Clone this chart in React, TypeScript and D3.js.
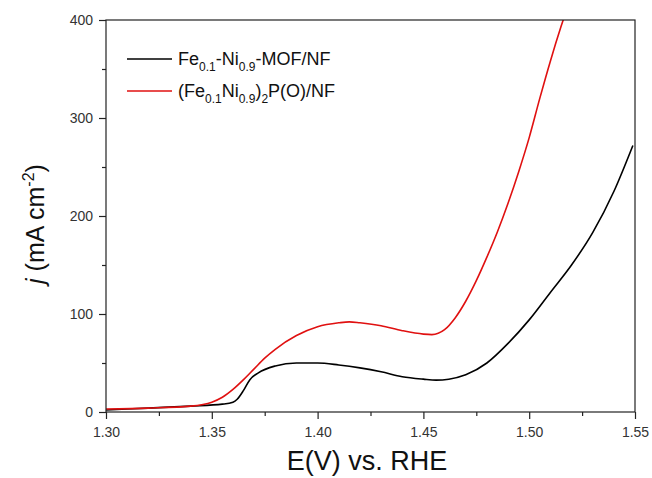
import React, { useEffect, useRef } from "react";
import * as d3 from "d3";

// potential (V vs. RHE) and current density (mA cm-2)
const mofE = [1.3, 1.32, 1.34, 1.355, 1.36, 1.362, 1.365, 1.368, 1.372, 1.38, 1.39, 1.4, 1.41, 1.42, 1.43, 1.44, 1.45, 1.456, 1.462, 1.47, 1.48, 1.49, 1.5, 1.51, 1.52, 1.53, 1.54, 1.549];
const mofJ = [2, 4, 6, 8, 10, 13, 22, 33, 40, 47, 50, 50, 48, 45, 41, 36, 33.5, 32.5, 33.5, 38, 50, 70, 94, 122, 150, 183, 225, 272];

const phosE = [1.3, 1.32, 1.34, 1.35, 1.355, 1.36, 1.365, 1.37, 1.375, 1.38, 1.39, 1.4, 1.41, 1.415, 1.42, 1.43, 1.44, 1.45, 1.454, 1.46, 1.465, 1.47, 1.475, 1.48, 1.485, 1.49, 1.495, 1.5, 1.505, 1.51, 1.515, 1.52];
const phosJ = [3, 4, 6, 10, 15, 23, 33, 44, 55, 64, 78, 87, 91, 92, 91, 88, 83, 79.5, 79, 84, 96, 113, 134, 158, 184, 213, 245, 280, 320, 358, 393, 425];

const xTicks = [1.3, 1.35, 1.4, 1.45, 1.5, 1.55];
const yTicks = [0, 100, 200, 300, 400];

const font = "'Liberation Sans', Arial, sans-serif";

const App = () => {
  const ref = useRef<SVGSVGElement>(null);

  useEffect(() => {
    const svg = d3.select(ref.current);
    svg.selectAll("*").remove();

    const left = 106, right = 635, top = 20, bottom = 412;
    const x = d3.scaleLinear().domain([1.3, 1.55]).range([left, right]);
    const y = d3.scaleLinear().domain([0, 400]).range([bottom, top]);

    svg.append("rect").attr("width", 652).attr("height", 478).attr("fill", "#fff");

    svg.append("clipPath").attr("id", "plot-clip")
      .append("rect").attr("x", left).attr("y", top).attr("width", right - left).attr("height", bottom - top);

    const line = d3.line<[number, number]>()
      .x(d => x(d[0]))
      .y(d => y(d[1]))
      .curve(d3.curveMonotoneX);

    const series = [
      { e: mofE, j: mofJ, color: "#000000" },
      { e: phosE, j: phosJ, color: "#e01010" },
    ];
    series.forEach(s => {
      svg.append("path")
        .attr("d", line(s.e.map((v, i) => [v, s.j[i]] as [number, number])))
        .attr("fill", "none")
        .attr("stroke", s.color)
        .attr("stroke-width", 1.6)
        .attr("clip-path", "url(#plot-clip)");
    });

    // frame
    svg.append("rect")
      .attr("x", left).attr("y", top).attr("width", right - left).attr("height", bottom - top)
      .attr("fill", "none").attr("stroke", "#222").attr("stroke-width", 1.2);

    // x axis
    const xAxis = svg.append("g").attr("transform", `translate(0,${bottom})`)
      .call(d3.axisBottom(x).tickValues(xTicks).tickFormat(d3.format(".2f")).tickSize(7).tickSizeOuter(0));
    xAxis.select(".domain").remove();
    xAxis.selectAll("text").attr("font-size", 14).attr("font-family", font).attr("fill", "#333").attr("dy", "1.05em");
    xAxis.selectAll("line").attr("stroke", "#222").attr("stroke-width", 1.2);
    svg.append("g").attr("transform", `translate(0,${bottom})`)
      .call(d3.axisBottom(x).tickValues(d3.range(5).map(i => 1.325 + i * 0.05)).tickFormat(() => "").tickSize(4).tickSizeOuter(0))
      .call(g => g.select(".domain").remove())
      .selectAll("line").attr("stroke", "#222").attr("stroke-width", 1.2);

    // y axis
    const yAxis = svg.append("g").attr("transform", `translate(${left},0)`)
      .call(d3.axisLeft(y).tickValues(yTicks).tickSize(7).tickSizeOuter(0));
    yAxis.select(".domain").remove();
    yAxis.selectAll("text").attr("font-size", 14).attr("font-family", font).attr("fill", "#333").attr("x", -13);
    yAxis.selectAll("line").attr("stroke", "#222").attr("stroke-width", 1.2);
    svg.append("g").attr("transform", `translate(${left},0)`)
      .call(d3.axisLeft(y).tickValues([50, 150, 250, 350]).tickFormat(() => "").tickSize(4).tickSizeOuter(0))
      .call(g => g.select(".domain").remove())
      .selectAll("line").attr("stroke", "#222").attr("stroke-width", 1.2);

    // axis titles
    svg.append("text")
      .attr("x", 367).attr("y", 470)
      .attr("text-anchor", "middle")
      .attr("font-family", font).attr("font-size", 27).attr("fill", "#111")
      .text("E(V) vs. RHE");

    const yTitle = svg.append("text")
      .attr("transform", "translate(44,224) rotate(-90)")
      .attr("text-anchor", "middle")
      .attr("font-family", font).attr("font-size", 25).attr("fill", "#111");
    yTitle.append("tspan").attr("font-style", "italic").text("j");
    yTitle.append("tspan").text(" (mA cm");
    yTitle.append("tspan").attr("font-size", 16).attr("dy", -10).text("-2");
    yTitle.append("tspan").attr("dy", 10).text(")");

    // legend
    const legend = svg.append("g").attr("font-family", font).attr("fill", "#111");
    const rows = [
      { color: "#000000", yy: 59, parts: [["Fe", 0], ["0.1", 1], ["-Ni", 0], ["0.9", 1], ["-MOF/NF", 0]] },
      { color: "#e01010", yy: 91, parts: [["(Fe", 0], ["0.1", 1], ["Ni", 0], ["0.9", 1], [")", 0], ["2", 1], ["P(O)/NF", 0]] },
    ];
    rows.forEach(r => {
      legend.append("line")
        .attr("x1", 127).attr("x2", 172).attr("y1", r.yy).attr("y2", r.yy)
        .attr("stroke", r.color).attr("stroke-width", 1.6);
      const t = legend.append("text").attr("x", 178).attr("y", r.yy + 6).attr("font-size", 18);
      let shift = 0;
      r.parts.forEach(([s, sub]) => {
        const dy = sub ? 6 - shift : -shift;
        shift = sub ? 6 : 0;
        t.append("tspan").attr("font-size", sub ? 12 : 18).attr("dy", dy).text(s as string);
      });
    });
  }, []);

  return <svg ref={ref} width={652} height={478} style={{ display: "block", position: "absolute", left: 0, top: 0 }} />;
};

export default App;
